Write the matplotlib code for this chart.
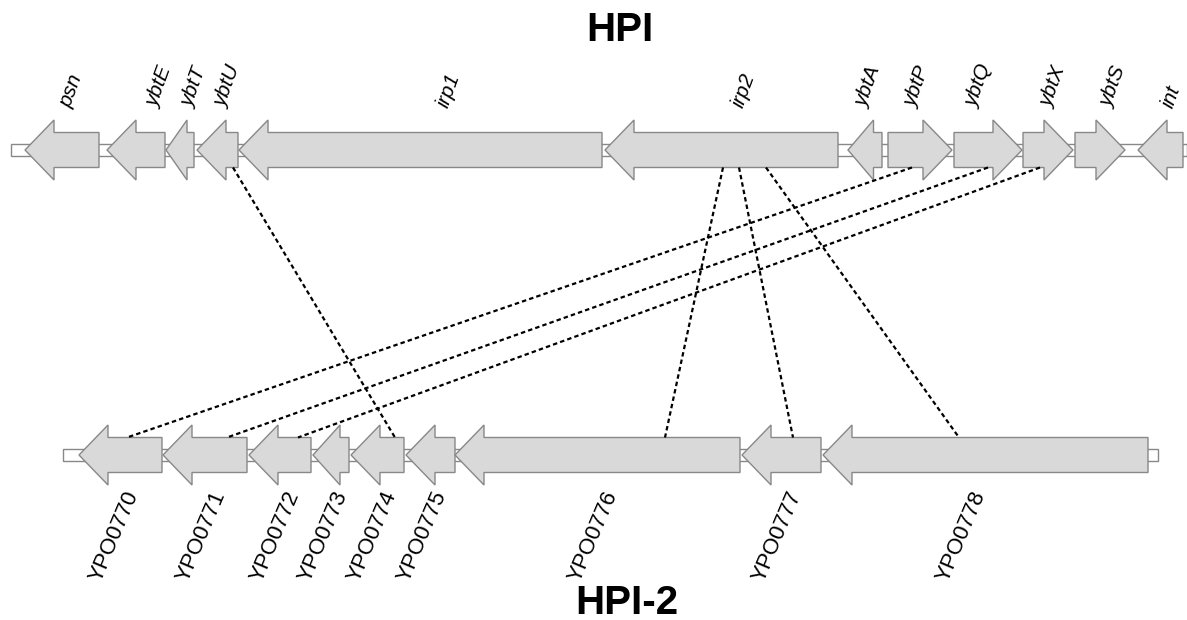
import matplotlib
matplotlib.use("Agg")
import matplotlib.pyplot as plt
from matplotlib.patches import Polygon, Rectangle

plt.rcParams['font.family'] = ['Liberation Sans', 'DejaVu Sans']

# ---- data: HPI (top track) ----
hpi_names = ["psn", "ybtE", "ybtT", "ybtU", "irp1", "irp2", "ybtA",
             "ybtP", "ybtQ", "ybtX", "ybtS", "int"]
hpi_start = [25, 107, 166, 197, 239, 605, 848, 888, 954, 1023, 1075, 1138]
hpi_end = [99, 165, 194, 238, 602, 838, 882, 952, 1022, 1073, 1125, 1183]
hpi_strand = [-1, -1, -1, -1, -1, -1, -1, 1, 1, 1, 1, -1]
hpi_span = [11, 1187]

# ---- data: HPI-2 (bottom track) ----
hpi2_names = ["YPO0770", "YPO0771", "YPO0772", "YPO0773", "YPO0774",
              "YPO0775", "YPO0776", "YPO0777", "YPO0778"]
hpi2_start = [79, 163, 249, 313, 351, 406, 455, 742, 823]
hpi2_end = [162, 247, 311, 349, 404, 455, 740, 821, 1148]
hpi2_strand = [-1, -1, -1, -1, -1, -1, -1, -1, -1]
hpi2_span = [63, 1158]

# ---- homology links (top position, bottom position) ----
link_top = [233, 912, 988, 1040, 723, 739, 766]
link_bottom = [395, 127, 227, 298, 665, 793, 959]

# ---- layout ----
W, H = 1187, 620
top_y, bot_y = 150, 455
body_h, head_h, bb_h = 17.5, 30, 6
hpi_label_x = [71, 159, 194, 228, 449, 744, 868, 917, 979, 1053, 1113, 1171]
hpi2_label_x = [114, 201, 275, 323, 372, 422, 593, 777, 961]

fill_c = '#d9d9d9'
edge_c = '#888888'

fig = plt.figure(figsize=(W / 100, H / 100), dpi=100)
ax = fig.add_axes([0, 0, 1, 1])
ax.set_xlim(0, W)
ax.set_ylim(H, 0)
ax.axis('off')


def gene(x0, x1, yc, strand):
    L = x1 - x0
    hl = min(29, 0.75 * L)
    if strand > 0:
        pts = [(x0, yc - body_h), (x1 - hl, yc - body_h), (x1 - hl, yc - head_h),
               (x1, yc), (x1 - hl, yc + head_h), (x1 - hl, yc + body_h),
               (x0, yc + body_h)]
    else:
        pts = [(x1, yc - body_h), (x0 + hl, yc - body_h), (x0 + hl, yc - head_h),
               (x0, yc), (x0 + hl, yc + head_h), (x0 + hl, yc + body_h),
               (x1, yc + body_h)]
    ax.add_patch(Polygon(pts, closed=True, facecolor=fill_c, edgecolor=edge_c,
                         lw=1.0, zorder=3))


def backbone(span, yc):
    ax.add_patch(Rectangle((span[0], yc - bb_h), span[1] - span[0], 2 * bb_h,
                           facecolor='white', edgecolor=edge_c, lw=1.0, zorder=1))


backbone(hpi_span, top_y)
backbone(hpi2_span, bot_y)
for s, e, st in zip(hpi_start, hpi_end, hpi_strand):
    gene(s, e, top_y, st)
for s, e, st in zip(hpi2_start, hpi2_end, hpi2_strand):
    gene(s, e, bot_y, st)

for xt, xb in zip(link_top, link_bottom):
    ax.plot([xt, xb], [top_y + body_h, bot_y - body_h], color='black',
            lw=1.6, linestyle=(0, (2.0, 1.4)), zorder=4)

for name, x in zip(hpi_names, hpi_label_x):
    ax.text(x, 110, name, rotation=70, ha='center', va='bottom',
            fontsize=15, fontstyle='italic', color='black')

for name, x in zip(hpi2_names, hpi2_label_x):
    ax.text(x, 488, name, rotation=67, ha='center', va='top',
            fontsize=16, color='black')

ax.text(620, 30, "HPI", ha='center', va='center', fontsize=29,
        fontweight='bold')
ax.text(627, 603, "HPI-2", ha='center', va='center', fontsize=29,
        fontweight='bold')

fig.savefig("out.png", dpi=100)
